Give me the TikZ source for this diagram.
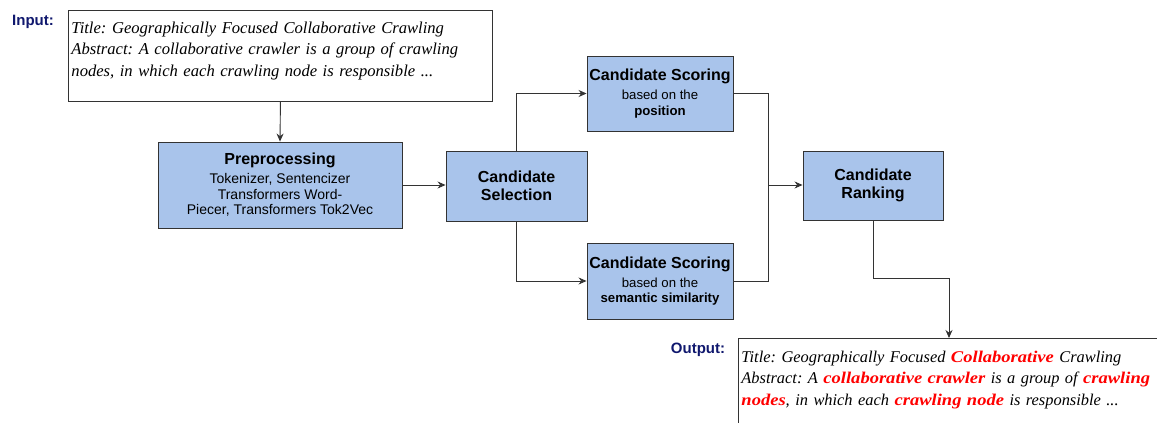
\documentclass[tikz,border=0pt]{standalone}
\usepackage{fontspec}
\setmainfont{Liberation Serif}
\setsansfont{Liberation Sans}
\usetikzlibrary{positioning,arrows.meta,calc}

\definecolor{boxblue}{HTML}{A9C4EB}
\definecolor{linegray}{HTML}{333333}
\definecolor{labelnavy}{HTML}{10186E}
\definecolor{hlred}{HTML}{FF0000}
\newcommand{\hlkey}[1]{\textcolor{hlred}{\bfseries\addfontfeatures{FakeStretch=1.13}#1}}
\newcommand{\prepfont}{\fontsize{14}{16}\selectfont}
\newcommand{\scorefont}{\fontsize{13.2}{16}\selectfont}
\frenchspacing

\begin{document}
\begin{tikzpicture}[
  x=1pt, y=-1pt,
  arr/.style={-{Stealth[length=8pt,width=7pt]}, line width=0.9pt, draw=linegray},
  conn/.style={line width=0.9pt, draw=linegray},
  lbl/.style={font=\sffamily\bfseries\fontsize{15}{18}\selectfont, text=labelnavy},
  paper/.style={draw=linegray, line width=0.9pt, fill=white, anchor=north west, align=left, inner sep=3pt, font=\itshape\fontsize{16.6}{21.5}\selectfont},
  blk/.style={draw=linegray, line width=0.9pt, fill=boxblue, align=center, inner sep=2pt, font=\sffamily\fontsize{16}{18}\selectfont}
]
\useasboundingbox (0,0) rectangle (1157,423);
\clip (0,0) rectangle (1157,423);

% Input paper
\node[lbl] (inlbl) at (33,22) {Input:};
\node[paper, text width=418pt, text height=20pt, text depth=65pt] (inp) at (68,10)
  {Title: Geographically Focused Collaborative Crawling\\
   Abstract: A collaborative crawler is a group of crawling\\
   nodes, in which each crawling node is responsible ...};

% Pipeline blocks
\node[blk, minimum width=244pt, minimum height=86pt] (prep) at (280,185)
  {\textbf{Preprocessing}\\[1pt]
   \prepfont Tokenizer, Sentencizer\\[-2.5pt] \prepfont Transformers Word-\\[-2.5pt] \prepfont Piecer, Transformers Tok2Vec};
\node[blk, minimum width=141pt, minimum height=70pt] (sel) at (516.5,186)
  {\textbf{Candidate}\\ \textbf{Selection}};
\node[blk, minimum width=146pt, minimum height=75pt] (scpos) at (660,93.5)
  {\textbf{Candidate Scoring}\\[1pt]
   \scorefont based on the\\[-2.5pt] \scorefont\textbf{position}};
\node[blk, minimum width=146pt, minimum height=76pt] (scsem) at (660,281)
  {\textbf{Candidate Scoring}\\[1pt]
   \scorefont based on the\\[-2.5pt] \scorefont\textbf{semantic similarity}};
\node[blk, minimum width=140pt, minimum height=69pt] (rank) at (873,185.5)
  {\textbf{Candidate}\\ \textbf{Ranking}};

% Output paper
\node[lbl] (outlbl) at (698,350) {Output:};
\node[paper, font=\itshape\fontsize{16.4}{21.5}\selectfont, text width=450pt, text height=21pt, text depth=70pt] (outp) at (738,338)
  {Title: Geographically Focused \hlkey{Collaborative} Crawling\\
   Abstract: A \hlkey{collaborative crawler} is a group of \hlkey{crawling}\\
   \hlkey{nodes}, in which each \hlkey{crawling node} is responsible ...};

% Connectors
\coordinate (mrg) at (768,185);
\coordinate (bend) at (949,278);
\draw[arr] (inp.south) -- (prep.north);
\draw[arr] (prep.east) -- (prep.east -| sel.west);
\draw[arr] (sel.north) |- (scpos.west);
\draw[arr] (sel.south) |- (scsem.west);
\draw[conn] (scpos.east) -| (mrg);
\draw[conn] (scsem.east) -| (mrg);
\draw[arr] (mrg) -- (mrg -| rank.west);
\draw[arr] (rank.south) |- (bend) -- (bend |- outp.north);

\end{tikzpicture}
\end{document}
